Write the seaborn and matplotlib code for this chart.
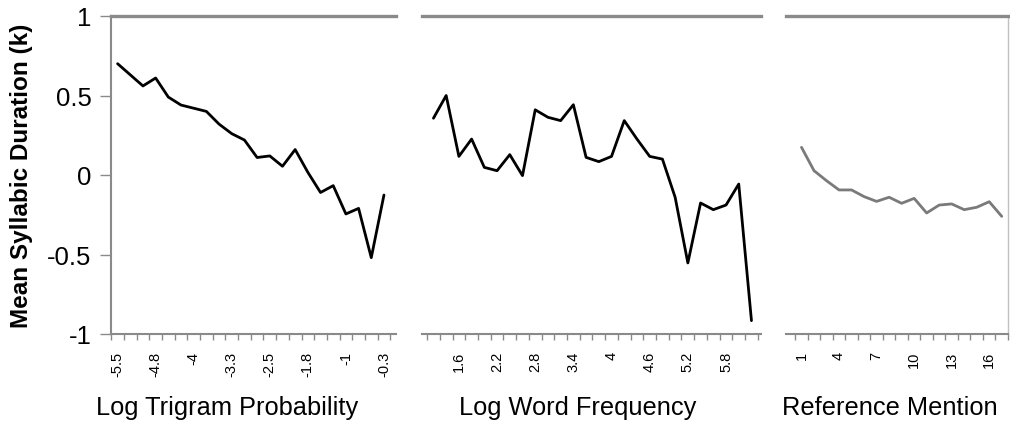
import numpy as np
import pandas as pd
import matplotlib
matplotlib.use("Agg")
import matplotlib.pyplot as plt
import seaborn as sns

sns.set_theme(style="white")
plt.rcParams['font.family'] = ['Liberation Sans', 'DejaVu Sans']
plt.rcParams['text.color'] = 'black'
plt.rcParams['xtick.color'] = 'black'
plt.rcParams['ytick.color'] = 'black'

# ---- data ----
trigram_labels = ["-5.5", "-4.8", "-4", "-3.3", "-2.5", "-1.8", "-1", "-0.3"]
trigram_values = [0.70, 0.63, 0.56, 0.61, 0.49, 0.44, 0.42, 0.40, 0.32, 0.26, 0.22,
                  0.11, 0.12, 0.055, 0.16, 0.017, -0.11, -0.067, -0.245, -0.21, -0.52, -0.126]

freq_labels = ["1.6", "2.2", "2.8", "3.4", "4", "4.6", "5.2", "5.8"]
freq_values = [0.357, 0.50, 0.117, 0.226, 0.048, 0.027, 0.128, -0.004, 0.41, 0.363, 0.342,
               0.442, 0.111, 0.084, 0.117, 0.342, 0.226, 0.117, 0.10, -0.14, -0.553,
               -0.176, -0.218, -0.189, -0.057, -0.916]

mention_labels = ["1", "4", "7", "10", "13", "16"]
mention_values = [0.174, 0.027, -0.036, -0.094, -0.094, -0.136, -0.166, -0.14, -0.178,
                  -0.147, -0.239, -0.189, -0.182, -0.218, -0.203, -0.168, -0.26]

y_ticks = [-1, -0.5, 0, 0.5, 1]
y_ticklabels = ["-1", "-0.5", "0", "0.5", "1"]

W, H = 1010, 427
fig = plt.figure(figsize=(W / 100, H / 100), dpi=100)

spine_col = "#8a8a8a"

def make_ax(left_px, right_px):
    return fig.add_axes([left_px / W, 1 - 335 / H, (right_px - left_px) / W, 318 / H])

panels = [
    dict(ax=make_ax(111, 396), vals=trigram_values, labels=trigram_labels, step=3,
         xlim=(-0.52, 21.95), color="black", title="Log Trigram Probability", cx=227,
         left=True, right=False),
    dict(ax=make_ax(422, 761), vals=freq_values, labels=freq_labels, step=3, first=2,
         xlim=(-0.9, 25.75), color="black", title="Log Word Frequency", cx=578,
         left=False, right=False),
    dict(ax=make_ax(786, 1008), vals=mention_values, labels=mention_labels, step=3,
         xlim=(-1.24, 16.25), color="#7a7a7a", title="Reference Mention", cx=890,
         left=False, right=True),
]

for p in panels:
    ax = p["ax"]
    n = len(p["vals"])
    df = pd.DataFrame({"x": np.arange(n), "y": p["vals"]})
    sns.lineplot(data=df, x="x", y="y", ax=ax, color=p["color"], linewidth=2.0)
    ax.set_xlim(*p["xlim"])
    ax.set_ylim(-1, 1)
    first = p.get("first", 0)
    major = list(range(first, n, p["step"]))[:len(p["labels"])]
    ax.set_xticks(major)
    ax.set_xticklabels(p["labels"], rotation=90, fontsize=10.5)
    ax.set_xticks(np.arange(-0.5, n, 1.0), minor=True)
    ax.tick_params(axis="x", which="major", length=0, pad=12)
    ax.tick_params(axis="x", which="minor", length=4, width=1.0, color=spine_col,
                   direction="out", bottom=True)
    ax.set_xlabel("")
    ax.set_ylabel("")
    ax.grid(False)
    for s in ax.spines.values():
        s.set_color(spine_col)
    ax.spines["top"].set_linewidth(2.4)
    ax.spines["bottom"].set_linewidth(1.5)
    ax.spines["left"].set_visible(p["left"])
    ax.spines["left"].set_linewidth(1.5)
    ax.spines["right"].set_visible(p["right"])
    ax.spines["right"].set_color("#c0c0c0")
    ax.spines["right"].set_linewidth(1.0)
    if p["left"]:
        ax.set_yticks(y_ticks)
        ax.set_yticklabels(y_ticklabels, fontsize=18.5)
        ax.tick_params(axis="y", length=8, width=1.0, color=spine_col,
                       labelcolor="black", direction="out", left=True, pad=6)
    else:
        ax.set_yticks([])
    fig.text(p["cx"] / W, 1 - 408 / H, p["title"], ha="center", va="center",
             fontsize=18.3, color="black")

fig.text(22 / W, 1 - 176 / H, "Mean Syllabic Duration (k)", rotation=90,
         ha="center", va="center", fontsize=17.5, fontweight="bold", color="black")

fig.savefig("out.png", dpi=100, facecolor="white")
